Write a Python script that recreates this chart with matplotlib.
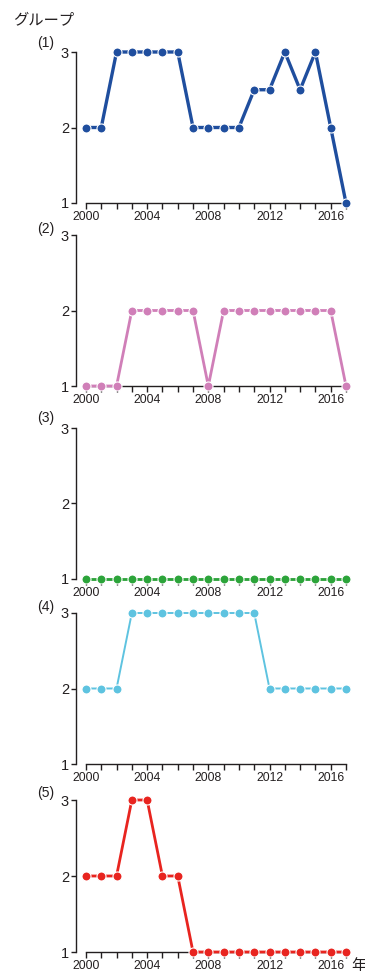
import matplotlib
matplotlib.use("Agg")
import matplotlib.pyplot as plt

plt.rcParams['font.family'] = ['Liberation Sans', 'Noto Sans CJK JP', 'DejaVu Sans']

years = list(range(2000, 2018))
g1 = [2, 2, 3, 3, 3, 3, 3, 2, 2, 2, 2, 2.5, 2.5, 3, 2.5, 3, 2, 1]
g2 = [1, 1, 1, 2, 2, 2, 2, 2, 1, 2, 2, 2, 2, 2, 2, 2, 2, 1]
g3 = [1] * 18
g4 = [2, 2, 2, 3, 3, 3, 3, 3, 3, 3, 3, 3, 2, 2, 2, 2, 2, 2]
g5 = [2, 2, 2, 3, 3, 2, 2, 1, 1, 1, 1, 1, 1, 1, 1, 1, 1, 1]
series = [g1, g2, g3, g4, g5]
labels = ["(1)", "(2)", "(3)", "(4)", "(5)"]
colors = ["#1f4e9e", "#d07fb8", "#2ca43a", "#5ec3e0", "#e8241f"]
widths = [2.4, 2.0, 2.0, 1.4, 2.0]
xticks_major = [2000, 2004, 2008, 2012, 2016]
yticks = [1, 2, 3]

W, H = 365, 973
fig = plt.figure(figsize=(W / 100, H / 100), dpi=100)
TXT = "#231f20"

# panel extents in pixels (y=3 level, y=1 level) and panel label heights
spans = [(52, 203), (235, 386), (428, 579), (613, 764), (800, 952)]
label_y = [43, 229, 418, 607, 793]
x_left, x_right = 76, 346

for i, (ys, (top, bot)) in enumerate(zip(series, spans)):
    ax = fig.add_axes([x_left / W, 1 - bot / H, (x_right - x_left) / W, (bot - top) / H])
    ax.plot(years, ys, color=colors[i], lw=widths[i], marker="o", ms=6.5,
            mec="white", mew=0.8, clip_on=False, zorder=3)
    ax.set_xlim(1999.35, 2017)
    ax.set_ylim(1, 3)
    for s in ("top", "right"):
        ax.spines[s].set_visible(False)
    ax.spines["left"].set_bounds(1, 3)
    ax.spines["bottom"].set_bounds(2000, 2017)
    for s in ("left", "bottom"):
        ax.spines[s].set_linewidth(1.0)
        ax.spines[s].set_color(TXT)
    ax.set_xticks(years)
    ax.set_xticklabels([str(y) if y in xticks_major else "" for y in years])
    ax.set_yticks(yticks)
    ax.tick_params(axis="x", direction="out", length=4.3, width=1, colors=TXT,
                   labelsize=8.8, pad=1.5)
    ax.tick_params(axis="y", direction="out", length=3.5, width=1, colors=TXT,
                   labelsize=10.5, pad=1.5)
    ax.patch.set_alpha(0)
    fig.text(46 / W, 1 - label_y[i] / H, labels[i], fontsize=10, color=TXT,
             ha="center", va="center")

fig.text(13 / W, 1 - 20 / H, "グループ", fontsize=11, color=TXT, ha="left", va="center")
fig.text(351 / W, 1 - 966 / H, "年", fontsize=11, color=TXT, ha="left", va="center")

fig.savefig("out.png", dpi=100)
